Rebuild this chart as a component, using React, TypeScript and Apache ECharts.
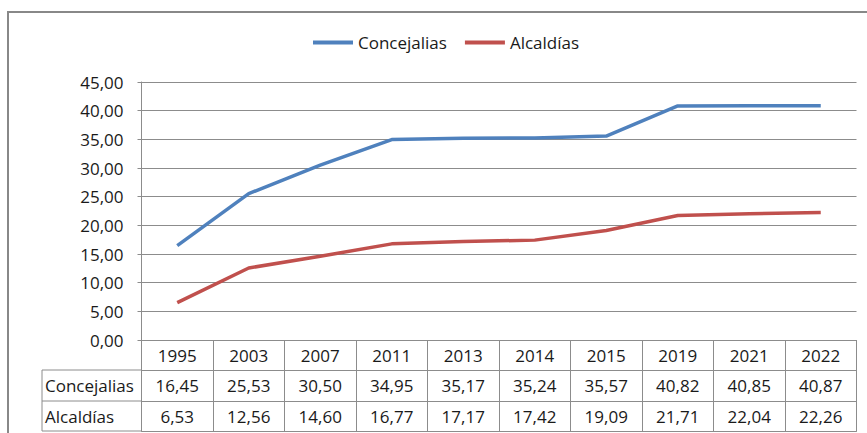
import React, { useEffect, useRef } from "react";
import * as echarts from "echarts";

const years = ["1995", "2003", "2007", "2011", "2013", "2014", "2015", "2019", "2021", "2022"];
const concejalias = [16.45, 25.53, 30.5, 34.95, 35.17, 35.24, 35.57, 40.82, 40.85, 40.87];
const alcaldias = [6.53, 12.56, 14.6, 16.77, 17.17, 17.42, 19.09, 21.71, 22.04, 22.26];
const seriesNames = ["Concejalias", "Alcaldías"];
const yTicks = { min: 0, max: 45, interval: 5 };

const FONT = "Open Sans";
const FS = 17;
const TXT = "#1a1a1a";
const GRID = "#8c8c8c";
const fmt = (v: number) => v.toFixed(2).replace(".", ",");

export default function App() {
  const ref = useRef<HTMLDivElement>(null);
  useEffect(() => {
    if (!ref.current) return;
    const chart = echarts.init(ref.current, null, { renderer: "svg" });
    const plotLeft = 141.5;
    const plotRight = 856.5;
    const axisY = 340;
    const rowTops = [370, 401, 431];

    const tableAxis = (data: string[], offset: number, tickLen: number, showLabel = true, showTick = true) => ({
      type: "category",
      data,
      position: "bottom",
      offset,
      boundaryGap: true,
      axisLine: { show: true, lineStyle: { color: GRID, width: 1 } },
      axisTick: { show: showTick, interval: 0, length: tickLen, lineStyle: { color: GRID, width: 1 } },
      axisLabel: {
        show: showLabel,
        interval: 0,
        margin: 15,
        verticalAlign: "middle",
        fontFamily: FONT,
        fontSize: FS,
        color: TXT,
      },
      splitLine: { show: false },
    });

    chart.setOption({
      animation: false,
      backgroundColor: "#ffffff",
      textStyle: { fontFamily: FONT },
      legend: {
        left: 308,
        top: 29,
        icon: "rect",
        itemWidth: 40,
        itemHeight: 4,
        itemGap: 18,
        textStyle: { fontFamily: FONT, fontSize: FS, color: TXT },
        data: seriesNames,
      },
      grid: { left: plotLeft, right: 867 - plotRight, top: 82, bottom: 433 - axisY, containLabel: false },
      xAxis: [
        tableAxis(years, 0, 30),
        tableAxis(concejalias.map(fmt), 30, 31),
        tableAxis(alcaldias.map(fmt), 61, 30),
        tableAxis(years, 91, 0, false, false),
      ],
      yAxis: {
        type: "value",
        min: yTicks.min,
        max: yTicks.max,
        interval: yTicks.interval,
        axisLine: { show: true, lineStyle: { color: GRID, width: 1 } },
        axisTick: { show: true, length: 4, lineStyle: { color: GRID } },
        axisLabel: {
          margin: 18,
          formatter: (v: number) => fmt(v),
          fontFamily: FONT,
          fontSize: FS,
          color: TXT,
        },
        splitLine: { show: true, lineStyle: { color: GRID, width: 1 } },
      },
      series: [
        {
          name: seriesNames[0],
          type: "line",
          data: concejalias,
          xAxisIndex: 0,
          symbol: "none",
          lineStyle: { color: "#4F81BD", width: 3.5 },
          itemStyle: { color: "#4F81BD" },
        },
        {
          name: seriesNames[1],
          type: "line",
          data: alcaldias,
          xAxisIndex: 0,
          symbol: "none",
          lineStyle: { color: "#C0504D", width: 3.5 },
          itemStyle: { color: "#C0504D" },
        },
      ],
      graphic: [
        {
          type: "rect",
          z: -1,
          shape: { x: 8, y: 12, width: 1000, height: 1000 },
          style: { fill: "none", stroke: "#888888", lineWidth: 2 },
        },
        {
          type: "line",
          shape: { x1: 42, y1: rowTops[0], x2: 42, y2: rowTops[2] },
          style: { stroke: GRID, lineWidth: 1 },
        },
        ...rowTops.map((y) => ({
          type: "line",
          shape: { x1: 42, y1: y, x2: plotLeft, y2: y },
          style: { stroke: GRID, lineWidth: 1 },
        })),
        ...seriesNames.map((n, i) => ({
          type: "text",
          x: 45,
          y: (rowTops[i] + rowTops[i + 1]) / 2,
          style: {
            text: n,
            fontFamily: FONT,
            fontSize: FS,
            fill: TXT,
            verticalAlign: "middle",
            align: "left",
          },
        })),
      ],
    });
    return () => chart.dispose();
  }, []);
  return (
    <div
      ref={ref}
      style={{ position: "fixed", left: 0, top: 0, width: 867, height: 433, background: "#fff" }}
    />
  );
}
